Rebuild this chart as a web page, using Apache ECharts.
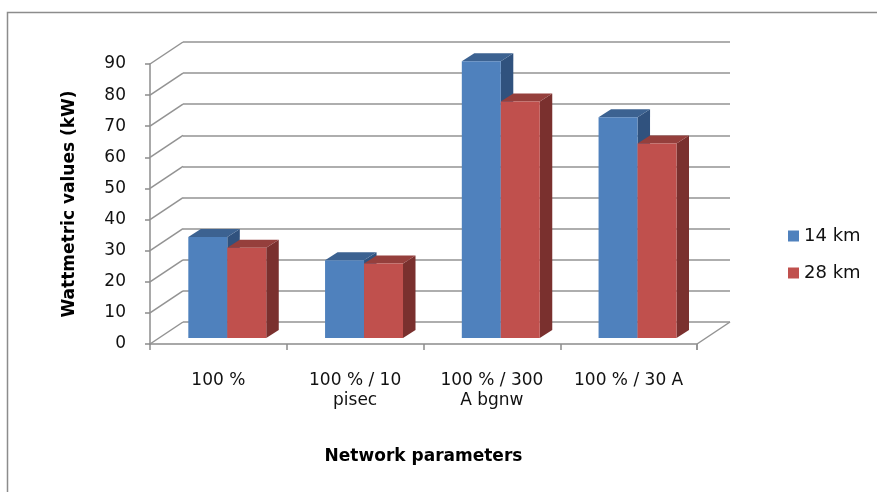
<!DOCTYPE html>
<html>
<head>
<meta charset="utf-8">
<script src="https://cdn.jsdelivr.net/npm/echarts@6/dist/echarts.min.js"></script>
<style>
  html, body { margin: 0; padding: 0; background: #fff; }
  #chart { width: 877px; height: 492px; }
</style>
</head>
<body>
<div id="chart"></div>
<script>
// Category names (with their wrapped line breaks)
const categories = ['100 %', '100 % / 10\npisec', '100 % / 300\nA bgnw', '100 % / 30 A'];
// Wattmetric values (kW) per network parameter
const series14km = [32.5, 25, 89, 71];
const series28km = [29, 24, 76, 62.5];
const seriesNames = ['14 km', '28 km'];
// Value-axis ticks
const yTicks = [0, 10, 20, 30, 40, 50, 60, 70, 80, 90];

// Depth of the box (back wall offset from the front plane)
const DEPTH = [33, -22];
// Bars sit a bit behind the front plane and have their own depth
const BAR_FRONT = 0.27;
const BAR_DEPTH = [12.5, -8];
const BAR_FRAC = 0.285;

const FONT = 'DejaVu Sans';

const palette = {
  blue: { front: '#4F81BD', top: '#3C6291', side: '#30527E' },
  red:  { front: '#C0504D', top: '#953F3C', side: '#7A302E' }
};

function barRenderer(colors, side) {
  return function (params, api) {
    const i = api.value(0);
    const v = api.value(1);
    const p0 = api.coord([i, 0]);
    const p1 = api.coord([i, v]);
    const band = api.size([1, 0])[0];
    const w = band * BAR_FRAC;
    const fx = DEPTH[0] * BAR_FRONT;
    const fy = DEPTH[1] * BAR_FRONT;
    const x0 = p0[0] + fx + (side < 0 ? -w : 0);
    const yb = p0[1] + fy;
    const yt = p1[1] + fy;
    const dx = BAR_DEPTH[0], dy = BAR_DEPTH[1];
    return {
      type: 'group',
      children: [
        { type: 'polygon', shape: { points: [[x0 + w, yt], [x0 + w + dx, yt + dy], [x0 + w + dx, yb + dy], [x0 + w, yb]] },
          style: { fill: colors.side } },
        { type: 'polygon', shape: { points: [[x0, yt], [x0 + w, yt], [x0 + w + dx, yt + dy], [x0 + dx, yt + dy]] },
          style: { fill: colors.top } },
        { type: 'rect', shape: { x: x0, y: yt, width: w, height: yb - yt },
          style: { fill: colors.front } }
      ]
    };
  };
}

// Diagonal lines of the left wall, plus the floor's right edge
function wallRenderer(params, api) {
  const v = api.value(0);
  const p = api.coord([0, v]);
  const band = api.size([1, 0])[0];
  const x = p[0] - band / 2;
  const lineStyle = { stroke: '#939393', lineWidth: 1.5 };
  const children = [
    { type: 'line', shape: { x1: x, y1: p[1], x2: x + DEPTH[0], y2: p[1] + DEPTH[1] }, style: lineStyle }
  ];
  if (v === 0) {
    const xr = x + band * categories.length;
    children.push({ type: 'line', shape: { x1: xr, y1: p[1], x2: xr + DEPTH[0], y2: p[1] + DEPTH[1] }, style: lineStyle });
    children.push({ type: 'line', shape: { x1: xr, y1: p[1], x2: xr, y2: p[1] + 6 }, style: lineStyle });
  }
  return { type: 'group', children: children };
}

const chart = echarts.init(document.getElementById('chart'), null, { renderer: 'canvas' });

const gridFront = { left: 150, top: 64, width: 547, height: 280 };
const gridBack = {
  left: gridFront.left + DEPTH[0],
  top: gridFront.top + DEPTH[1],
  width: gridFront.width,
  height: gridFront.height
};

chart.setOption({
  animation: false,
  backgroundColor: '#ffffff',
  textStyle: { fontFamily: FONT },
  graphic: [
    { type: 'rect', left: 5, top: 10, shape: { width: 900, height: 500 },
      style: { fill: 'none', stroke: '#8c8c8c', lineWidth: 1.5 }, silent: true, z: -10 }
  ],
  grid: [
    Object.assign({ containLabel: false }, gridFront),
    Object.assign({ containLabel: false }, gridBack)
  ],
  legend: {
    data: seriesNames,
    orient: 'vertical',
    left: 783,
    top: 222,
    icon: 'rect',
    itemWidth: 11,
    itemHeight: 11,
    itemGap: 19,
    textStyle: { fontFamily: FONT, fontSize: 18, color: '#111' }
  },
  xAxis: [
    {
      type: 'category', gridIndex: 0, data: categories,
      axisLine: { show: true, lineStyle: { color: '#8c8c8c', width: 1.5 } },
      axisTick: { show: true, alignWithLabel: false, length: 6, lineStyle: { color: '#8c8c8c', width: 1.5 } },
      axisLabel: { fontFamily: FONT, fontSize: 17, color: '#111', margin: 27, lineHeight: 20, interval: 0 },
      name: 'Network parameters',
      nameLocation: 'middle',
      nameGap: 104,
      nameTextStyle: { fontFamily: FONT, fontSize: 17, fontWeight: 'bold', color: '#000' },
      splitLine: { show: false }
    },
    {
      type: 'category', gridIndex: 1, data: categories,
      axisLine: { show: false }, axisTick: { show: false }, axisLabel: { show: false },
      splitLine: { show: false }
    }
  ],
  yAxis: [
    {
      type: 'value', gridIndex: 0, min: 0, max: 90, interval: 10,
      axisLine: { show: true, lineStyle: { color: '#8c8c8c', width: 1.5 } },
      axisTick: { show: true, length: 5, lineStyle: { color: '#8c8c8c', width: 1.5 } },
      axisLabel: { fontFamily: FONT, fontSize: 17, color: '#111', margin: 24 },
      splitLine: { show: false },
      name: 'Wattmetric values (kW)',
      nameLocation: 'middle',
      nameRotate: 90,
      nameGap: 72,
      nameTextStyle: { fontFamily: FONT, fontSize: 17, fontWeight: 'bold', color: '#000' }
    },
    {
      type: 'value', gridIndex: 1, min: 0, max: 90, interval: 10,
      axisLine: { show: false }, axisTick: { show: false }, axisLabel: { show: false },
      splitLine: { show: true, lineStyle: { color: '#939393', width: 1.5 } }
    }
  ],
  series: [
    {
      type: 'custom', name: 'walls', xAxisIndex: 0, yAxisIndex: 0,
      data: yTicks.map(v => [v]),
      encode: { y: 0 },
      renderItem: wallRenderer,
      silent: true, z: 1
    },
    {
      type: 'custom', name: seriesNames[0], xAxisIndex: 0, yAxisIndex: 0,
      data: series14km.map((v, i) => [i, v]),
      encode: { x: 0, y: 1 },
      itemStyle: { color: palette.blue.front },
      renderItem: barRenderer(palette.blue, -1), z: 3
    },
    {
      type: 'custom', name: seriesNames[1], xAxisIndex: 0, yAxisIndex: 0,
      data: series28km.map((v, i) => [i, v]),
      encode: { x: 0, y: 1 },
      itemStyle: { color: palette.red.front },
      renderItem: barRenderer(palette.red, 1), z: 4
    }
  ]
});
</script>
</body>
</html>
